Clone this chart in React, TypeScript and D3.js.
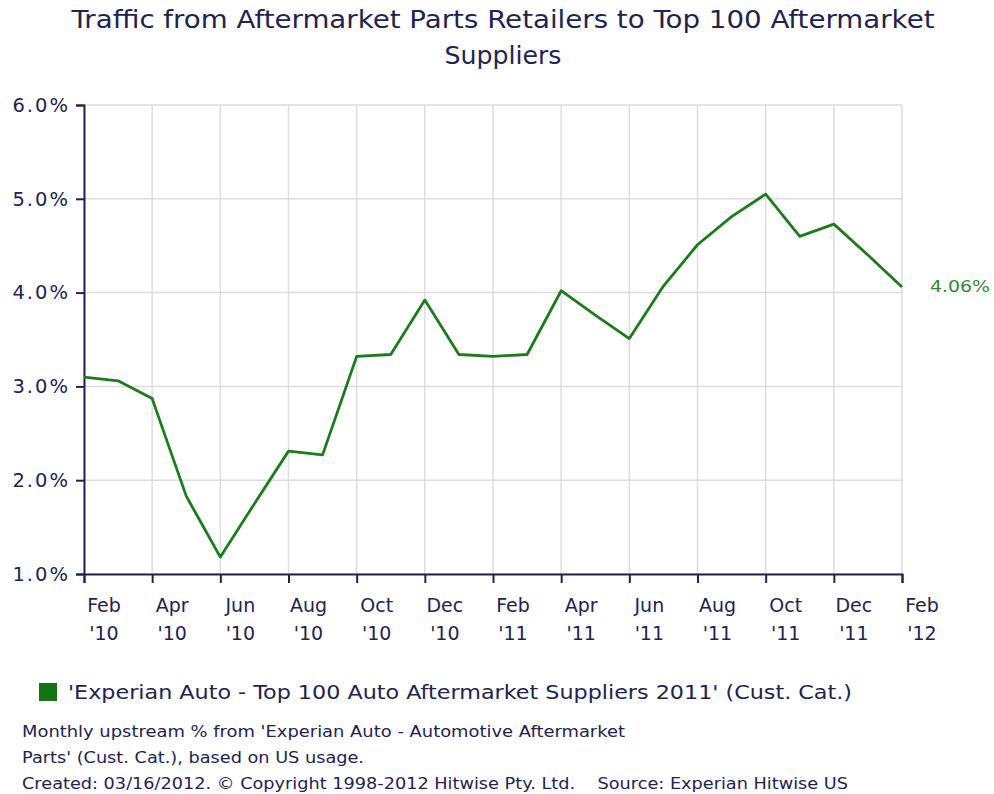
import * as d3 from 'd3';
import React, { useEffect, useRef } from 'react';

const months = [
  'Feb 10', 'Mar 10', 'Apr 10', 'May 10', 'Jun 10', 'Jul 10', 'Aug 10', 'Sep 10', 'Oct 10',
  'Nov 10', 'Dec 10', 'Jan 11', 'Feb 11', 'Mar 11', 'Apr 11', 'May 11', 'Jun 11', 'Jul 11',
  'Aug 11', 'Sep 11', 'Oct 11', 'Nov 11', 'Dec 11', 'Jan 12', 'Feb 12',
];
const values = [
  3.10, 3.06, 2.87, 1.83, 1.18, 1.75, 2.31, 2.27, 3.32, 3.34, 3.92, 3.34, 3.32, 3.34, 4.02,
  3.76, 3.51, 4.07, 4.51, 4.81, 5.05, 4.60, 4.73, 4.40, 4.06,
];
const tickLabels = [
  ['Feb', "'10"], ['Apr', "'10"], ['Jun', "'10"], ['Aug', "'10"], ['Oct', "'10"], ['Dec', "'10"],
  ['Feb', "'11"], ['Apr', "'11"], ['Jun', "'11"], ['Aug', "'11"], ['Oct', "'11"], ['Dec', "'11"],
  ['Feb', "'12"],
];
const yTicks = [1, 2, 3, 4, 5, 6];

const titleLines = ['Traffic from Aftermarket Parts Retailers to Top 100 Aftermarket', 'Suppliers'];
const titleWidths = [863, 117];
const legendText = "'Experian Auto - Top 100 Auto Aftermarket Suppliers 2011' (Cust. Cat.)";
const footerLines = [
  "Monthly upstream % from 'Experian Auto - Automotive Aftermarket",
  "Parts' (Cust. Cat.), based on US usage.",
  'Created: 03/16/2012. \u00a9 Copyright 1998-2012 Hitwise Pty. Ltd.    Source: Experian Hitwise US',
];
const footerWidths = [603, 342, 826];

const FONT = "'DejaVu Sans', Verdana, sans-serif";
const NAVY = '#23234f';
const GREEN = '#1a7d1a';

function App() {
  const ref = useRef<SVGSVGElement>(null);

  useEffect(() => {
    const width = 994;
    const height = 794;
    const margin = { top: 105, right: 92, bottom: 220, left: 84 };
    const innerWidth = width - margin.left - margin.right;
    const innerHeight = height - margin.top - margin.bottom;

    const svg = d3.select(ref.current);
    svg.selectAll('*').remove();

    const x = d3.scalePoint<number>().domain(d3.range(months.length)).range([0, innerWidth]);
    const y = d3.scaleLinear().domain([1, 6]).range([innerHeight, 0]);

    // title
    svg.append('g')
      .selectAll('text')
      .data(titleLines)
      .enter()
      .append('text')
      .attr('x', width / 2 + 6)
      .attr('y', (d, i) => 28 + i * 36)
      .attr('text-anchor', 'middle')
      .attr('font-family', FONT)
      .attr('font-size', 24)
      .attr('fill', NAVY)
      .attr('textLength', (d, i) => titleWidths[i])
      .attr('lengthAdjust', 'spacingAndGlyphs')
      .text(d => d);

    const g = svg.append('g').attr('transform', `translate(${margin.left},${margin.top})`);

    const tickIdx = d3.range(0, months.length, 2);

    // grid
    g.append('g')
      .selectAll('line')
      .data(yTicks)
      .enter()
      .append('line')
      .attr('x1', 0)
      .attr('x2', innerWidth)
      .attr('y1', d => y(d))
      .attr('y2', d => y(d))
      .attr('stroke', '#dddddd')
      .attr('stroke-width', 1.5);

    g.append('g')
      .selectAll('line')
      .data(tickIdx)
      .enter()
      .append('line')
      .attr('x1', d => x(d)!)
      .attr('x2', d => x(d)!)
      .attr('y1', 0)
      .attr('y2', innerHeight)
      .attr('stroke', '#dddddd')
      .attr('stroke-width', 1.5);

    // y axis
    const yAxis = d3.axisLeft(y)
      .tickValues(yTicks)
      .tickSize(8)
      .tickPadding(6)
      .tickFormat(d => `${(+d).toFixed(1)}%`);
    const ya = g.append('g').call(yAxis);
    ya.select('.domain').attr('stroke', NAVY).attr('stroke-width', 2);
    ya.selectAll('.tick line').attr('stroke', NAVY).attr('stroke-width', 2);
    ya.selectAll('.tick text')
      .attr('font-family', FONT)
      .attr('font-size', 19.5)
      .attr('letter-spacing', 2)
      .attr('fill', NAVY);

    // x axis
    const xAxis = d3.axisBottom(x)
      .tickValues(tickIdx)
      .tickSize(9)
      .tickFormat(() => '');
    const xa = g.append('g').attr('transform', `translate(0,${innerHeight})`).call(xAxis);
    xa.select('.domain').attr('stroke', NAVY).attr('stroke-width', 2);
    xa.selectAll('.tick line').attr('stroke', NAVY).attr('stroke-width', 2);

    const lbl = g.append('g')
      .selectAll('text')
      .data(tickIdx)
      .enter()
      .append('text')
      .attr('text-anchor', 'middle')
      .attr('font-family', FONT)
      .attr('font-size', 19)
      .attr('fill', NAVY);
    lbl.each(function (d, i) {
      const t = d3.select(this);
      tickLabels[i].forEach((s, j) => {
        t.append('tspan')
          .attr('x', x(d)! + 20)
          .attr('y', innerHeight + 38 + j * 28)
          .text(s);
      });
    });

    // line
    const line = d3.line<number>()
      .x((d, i) => x(i)!)
      .y(d => y(d));
    g.append('path')
      .datum(values)
      .attr('d', line)
      .attr('fill', 'none')
      .attr('stroke', GREEN)
      .attr('stroke-width', 2.8)
      .attr('stroke-linejoin', 'round');

    // end label
    const last = values[values.length - 1];
    g.append('text')
      .attr('x', innerWidth + 28)
      .attr('y', y(last) + 1)
      .attr('dominant-baseline', 'middle')
      .attr('font-family', FONT)
      .attr('font-size', 15)
      .attr('textLength', 60)
      .attr('lengthAdjust', 'spacingAndGlyphs')
      .attr('fill', '#2e8b2e')
      .text(`${last.toFixed(2)}%`);

    // legend
    svg.append('rect')
      .attr('x', 39)
      .attr('y', 683)
      .attr('width', 18)
      .attr('height', 18)
      .attr('fill', '#127512');
    svg.append('text')
      .attr('x', 68)
      .attr('y', 699)
      .attr('font-family', FONT)
      .attr('font-size', 19)
      .attr('fill', NAVY)
      .attr('textLength', 784)
      .attr('lengthAdjust', 'spacingAndGlyphs')
      .text(legendText);

    // footer
    svg.append('g')
      .selectAll('text')
      .data(footerLines)
      .enter()
      .append('text')
      .attr('x', 22)
      .attr('y', (d, i) => 737 + i * 26)
      .attr('font-family', FONT)
      .attr('font-size', 15)
      .attr('fill', NAVY)
      .attr('textLength', (d, i) => footerWidths[i])
      .attr('lengthAdjust', 'spacingAndGlyphs')
      .style('white-space', 'pre')
      .text(d => d);
  });

  return (
    <svg ref={ref} width={994} height={794} style={{ position: 'absolute', left: 0, top: 0, background: '#fff' }} />
  );
}

export default App;
